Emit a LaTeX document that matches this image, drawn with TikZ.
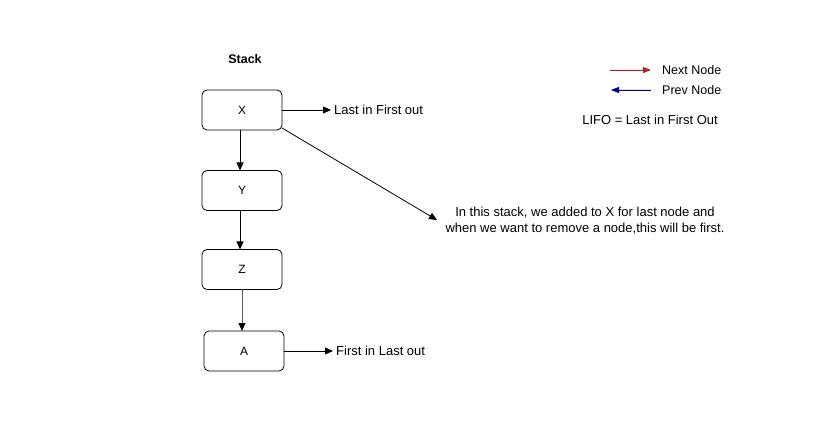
\documentclass[tikz,border=0pt]{standalone}
\usepackage{fontspec}
\setmainfont{Liberation Sans}
\usetikzlibrary{arrows.meta}
\definecolor{nextred}{RGB}{178,34,34}
\definecolor{prevblue}{RGB}{0,0,139}
\begin{document}
\begin{tikzpicture}[x=1pt,y=-1pt,
  box/.style={draw,rounded corners=5pt,minimum width=80pt,minimum height=40pt,inner sep=0pt,font=\fontsize{12}{14}\selectfont,line width=0.8pt},
  conn/.style={-{Triangle[length=8pt,width=7pt]},line width=0.8pt},
  lbl/.style={font=\fontsize{13}{16}\selectfont,inner sep=1pt},
  side/.style={font=\fontsize{13}{16}\selectfont,inner xsep=3pt,inner ysep=1pt,anchor=west}]
\useasboundingbox (0,0) rectangle (827,446);
\node[font=\bfseries\fontsize{12.5}{14}\selectfont] (stack) at (245,59) {Stack};
\node[box] (X) at (242,110) {X};
\node[box] (Y) at (242,190.5) {Y};
\node[box] (Z) at (242,269.5) {Z};
\node[box] (A) at (244,351) {A};
\node[side] (lifo) at (331,110) {Last in First out};
\node[side] (filo) at (333,351) {First in Last out};
\node[lbl,align=center] (note) at (585,221) {In this stack, we added to X for last node and\\when we want to remove a node,this will be first.};
\coordinate (diagend) at (437,220);
\coordinate (xbr) at (282,128);
\draw[conn] (X.east) -- (lifo.west);
\draw[conn] (A.east) -- (filo.west);
\draw[conn] (240,130) -- (240,170.5);
\draw[conn] (240,210.5) -- (240,249.5);
\draw[line width=0.9pt,draw=black!65,-{Triangle[length=8pt,width=7pt,color=black]}] (242,289.5) -- (242,331);
\draw[conn] (xbr) -- (diagend);
% legend
\node[lbl,anchor=west,font=\fontsize{12.5}{14}\selectfont] (nn) at (661,70) {Next Node};
\node[lbl,anchor=west,font=\fontsize{12.5}{14}\selectfont] (pn) at (661,90) {Prev Node};
\coordinate (r0) at (610,70);
\coordinate (r1) at (651,70);
\coordinate (b0) at (651,90);
\coordinate (b1) at (611,90);
\draw[-{Triangle[length=8pt,width=6pt]},draw=nextred,fill=nextred,line width=0.8pt] (r0) -- (r1);
\draw[-{Triangle[length=8pt,width=6pt]},draw=prevblue,fill=prevblue,line width=0.8pt] (b0) -- (b1);
\node[lbl] (lifodef) at (650,120) {LIFO = Last in First Out};
\end{tikzpicture}
\end{document}
